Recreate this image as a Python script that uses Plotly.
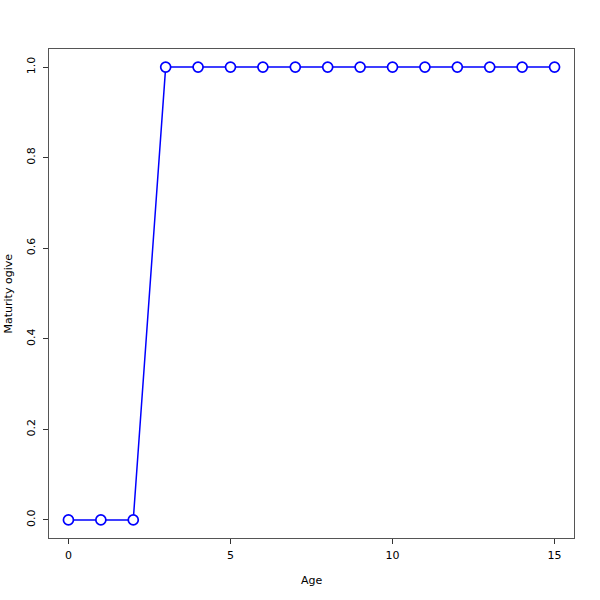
import plotly.graph_objects as go

ages = [0, 1, 2, 3, 4, 5, 6, 7, 8, 9, 10, 11, 12, 13, 14, 15]
maturity = [0, 0, 0, 1, 1, 1, 1, 1, 1, 1, 1, 1, 1, 1, 1, 1]
x_ticks = [0, 5, 10, 15]
y_ticks = [0.0, 0.2, 0.4, 0.6, 0.8, 1.0]
y_tick_labels = ["0.0", "0.2", "0.4", "0.6", "0.8", "1.0"]

L, T, R, B = 49, 49, 26, 62
PW, PH = 600 - L - R, 600 - T - B

fig = go.Figure()
fig.add_trace(go.Scatter(
    x=ages, y=maturity, mode="lines+markers",
    line=dict(color="#0000FF", width=1.5),
    marker=dict(symbol="circle", size=10, color="white",
                line=dict(color="#0000FF", width=1.7)),
    showlegend=False,
))

font = dict(family="DejaVu Sans, Liberation Sans, Arial", size=11, color="black")
fig.update_layout(
    width=600, height=600,
    margin=dict(l=L, r=R, t=T, b=B),
    plot_bgcolor="white", paper_bgcolor="white",
    font=font,
    xaxis=dict(range=[-0.6, 15.6], tickvals=x_ticks, ticks="outside", ticklen=5,
               tickcolor="#333", showgrid=False, zeroline=False, automargin=False,
               showline=True, linecolor="#555", linewidth=1, mirror=True,
               ticklabelstandoff=2),
    yaxis=dict(range=[-0.04, 1.04], tickvals=y_ticks, ticktext=y_tick_labels,
               ticks="outside", ticklen=5, tickangle=-90, automargin=False,
               tickcolor="#333", showgrid=False, zeroline=False,
               showline=True, linecolor="#555", linewidth=1, mirror=True,
               ticklabelstandoff=4),
    annotations=[
        dict(text="Age", x=0.5, y=-(580 - 538) / PH, xref="paper", yref="paper",
             showarrow=False, font=font, yanchor="middle"),
        dict(text="Maturity ogive", x=-(49 - 8) / PW, y=0.5, xref="paper", yref="paper",
             showarrow=False, font=font, textangle=-90, xanchor="center"),
    ],
)

fig.write_html("out.html", config={"displayModeBar": False},
               post_script="document.body.style.margin='0';")
